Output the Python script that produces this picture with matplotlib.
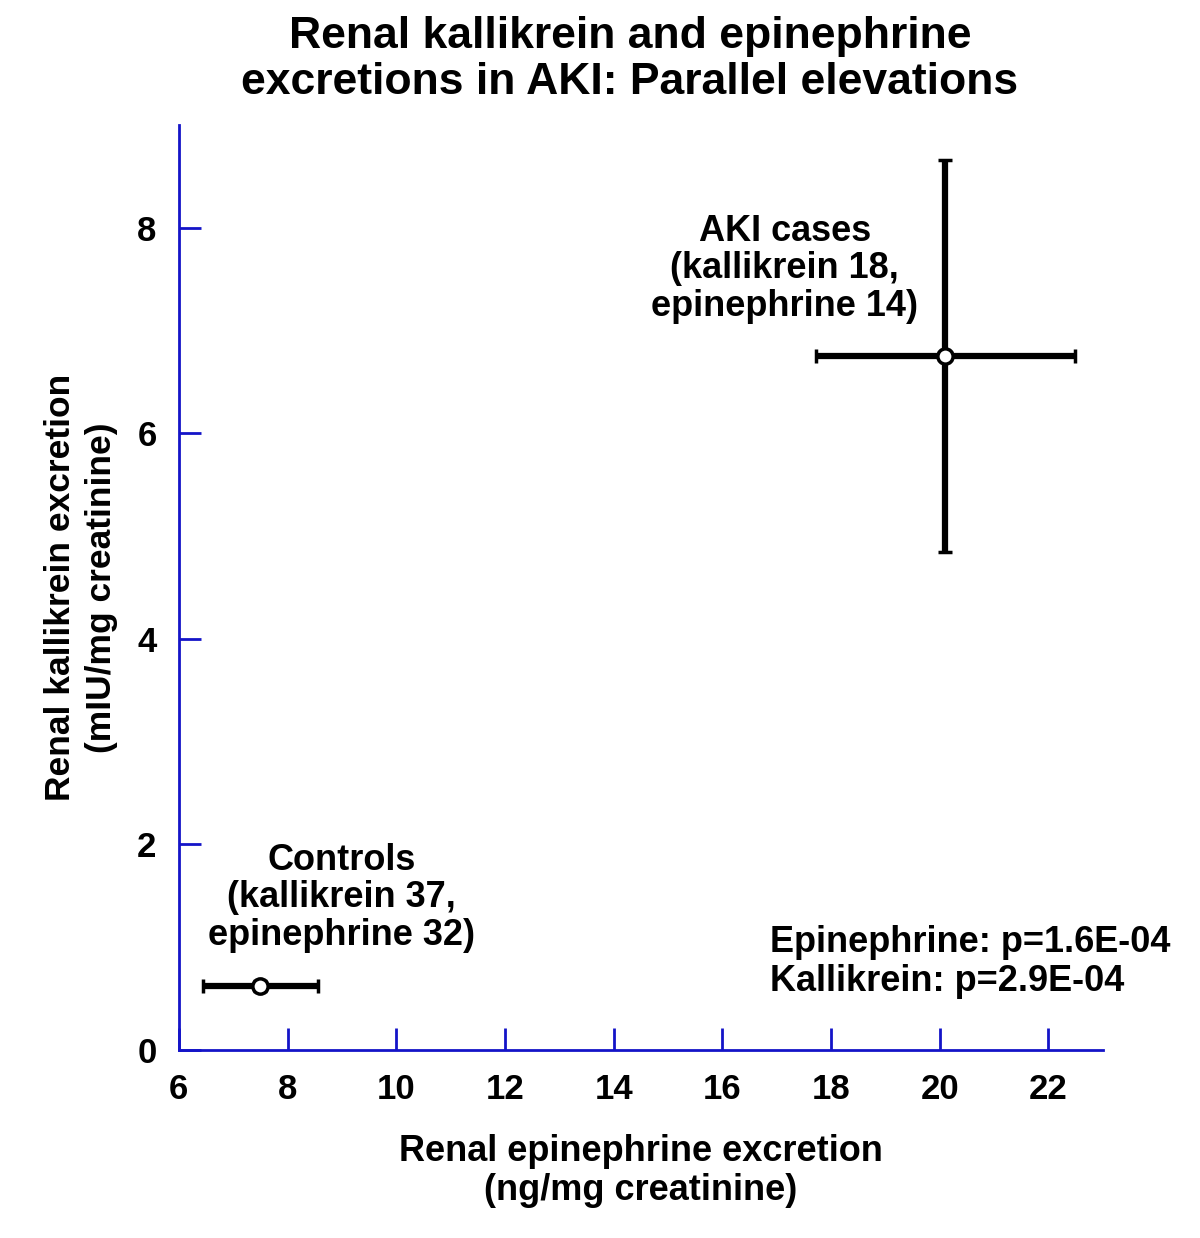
import matplotlib
matplotlib.use("Agg")
import matplotlib.pyplot as plt

plt.rcParams['font.family'] = ['Liberation Sans', 'DejaVu Sans']
plt.rcParams['font.weight'] = 'bold'

# Group means and error bars
groups = ["Controls", "AKI cases"]
epinephrine = [7.5, 20.1]
epinephrine_err = [1.06, 2.38]
kallikrein = [0.62, 6.75]
kallikrein_err = [0.05, 1.91]

labels = ["Controls\n(kallikrein 37,\nepinephrine 32)",
          "AKI cases\n(kallikrein 18,\nepinephrine 14)"]
label_pos = [(9.0, 1.48), (17.15, 7.6)]

axis_blue = "#1414c8"

fig = plt.figure(figsize=(12, 12.38), dpi=100)
ax = fig.add_axes([0.149, 0.152, 0.770, 0.747])

for x, xe, y, ye in zip(epinephrine, epinephrine_err, kallikrein, kallikrein_err):
    ax.errorbar(x, y, xerr=xe, yerr=ye, fmt='o', color='black', ecolor='black',
                elinewidth=4.5, capsize=5, capthick=5,
                markerfacecolor='white', markeredgecolor='black',
                markersize=11, markeredgewidth=2.5, zorder=3)

for txt, (tx, ty) in zip(labels, label_pos):
    ax.text(tx, ty, txt, ha='center', va='center', fontsize=26,
            fontweight='bold', linespacing=1.1)

ax.text(16.88, 0.49, "Epinephrine: p=1.6E-04\nKallikrein: p=2.9E-04",
        ha='left', va='bottom', fontsize=26, fontweight='bold', linespacing=1.15)

ax.set_xlim(6, 23)
ax.set_ylim(0, 9)
ax.set_xticks(range(6, 23, 2))
ax.set_yticks(range(0, 9, 2))

for side in ['top', 'right']:
    ax.spines[side].set_visible(False)
for side in ['left', 'bottom']:
    ax.spines[side].set_color(axis_blue)
    ax.spines[side].set_linewidth(2)

ax.tick_params(direction='in', length=16, width=2, color=axis_blue,
               labelsize=25)
ax.tick_params(axis='x', pad=17)
ax.tick_params(axis='y', pad=16)
for lab in ax.get_xticklabels() + ax.get_yticklabels():
    lab.set_fontweight('bold')

ax.set_xlabel("Renal epinephrine excretion\n(ng/mg creatinine)", fontsize=26,
              fontweight='bold', labelpad=20, linespacing=1.15)
ax.set_ylabel("Renal kallikrein excretion\n(mIU/mg creatinine)", fontsize=25.5,
              fontweight='bold', labelpad=14, linespacing=1.3)

fig.suptitle("Renal kallikrein and epinephrine\nexcretions in AKI: Parallel elevations",
             fontsize=32, fontweight='bold', x=0.525, y=0.987, linespacing=1.15)

fig.savefig("out.png", dpi=100)
